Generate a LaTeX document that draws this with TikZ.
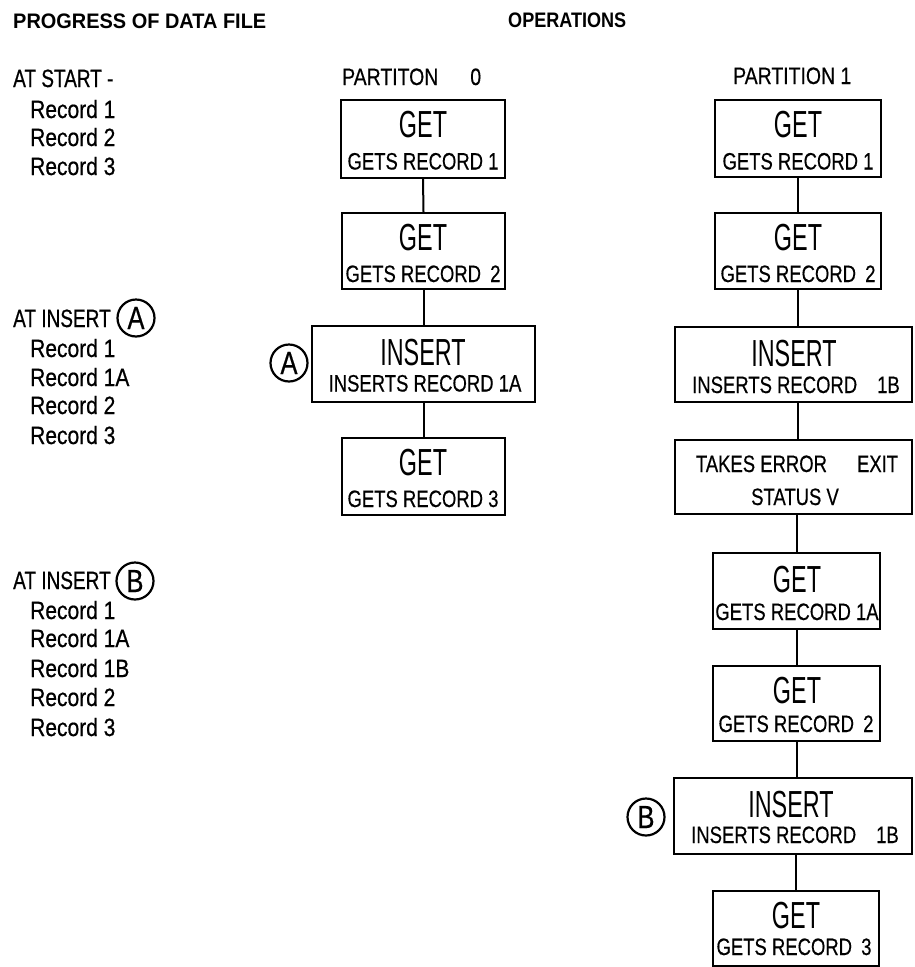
\documentclass[tikz,border=0pt]{standalone}
\usepackage{fontspec}
\setmainfont{Liberation Sans}
\newfontfamily\fSub[FakeStretch=0.78,FakeBold=0.4]{Liberation Sans}
\newfontfamily\fBig[FakeStretch=0.62]{Liberation Sans}
\newfontfamily\fRec[FakeStretch=0.84,FakeBold=0.6]{Liberation Sans}
\newfontfamily\fHd[FakeStretch=0.76,FakeBold=0.6]{Liberation Sans}
\newfontfamily\fTtlA[FakeStretch=0.95]{Liberation Sans}
\newfontfamily\fTtlB[FakeStretch=0.86]{Liberation Sans}
\newfontfamily\fPart[FakeStretch=0.82,FakeBold=0.4]{Liberation Sans}
\newfontfamily\fCirc[FakeStretch=0.8,FakeBold=0.4]{Liberation Sans}
\newcommand\mkbox[5]{\node[opbox, minimum width={(#4)-(#2)}, minimum height={(#5)-(#3)}] (#1) at ({((#2)+(#4))/2},{((#3)+(#5))/2}) {};}
\tikzset{
  opbox/.style={draw, rectangle, line width=2.4pt, inner sep=0pt},
  link/.style={line width=2pt},
  bigt/.style={font=\fBig\fontsize{37.7}{38}\selectfont, inner sep=0pt, anchor=base},
  subt/.style={font=\fSub\fontsize{23.7}{24}\selectfont, inner sep=0pt, anchor=base},
  rect/.style={font=\fRec\fontsize{25}{25}\selectfont, inner sep=0pt, anchor=base west},
  hdrt/.style={font=\fHd\fontsize{25}{25}\selectfont, inner sep=0pt, anchor=base west},
  tagc/.style={circle, draw, line width=2.2pt, minimum size=37pt, inner sep=0pt, font=\fCirc\fontsize{32}{32}\selectfont},
  ttlA/.style={font=\fTtlA\bfseries\fontsize{21}{21}\selectfont, inner sep=0pt, anchor=base west},
  ttlB/.style={font=\fTtlB\bfseries\fontsize{21}{21}\selectfont, inner sep=0pt, anchor=base west},
  partl/.style={font=\fPart\fontsize{23.7}{24}\selectfont, inner sep=0pt, anchor=base west}
}
\begin{document}
\begin{tikzpicture}[x=1pt,y=-1pt]
\useasboundingbox (0,0) rectangle (914,967);

% titles
\node[ttlA] (t1) at (13,28.5) {PROGRESS OF DATA FILE};
\node[ttlB] (t2) at (508,27.5) {OPERATIONS};
\node[partl] (p0) at (342,85) {PARTITON\hspace{32pt}0};
\node[partl] (p1) at (733,84) {PARTITION 1};

% left column
\node[hdrt] (h1) at (13,87) {AT START -};
\node[rect] (r11) at (30,118) {Record 1};
\node[rect] (r12) at (30,146) {Record 2};
\node[rect] (r13) at (30,175) {Record 3};

\node[hdrt] (h2) at (13,327) {AT INSERT};
\node[tagc] (cA1) at (136,318) {A};
\node[rect] (r21) at (30,357) {Record 1};
\node[rect] (r22) at (30,386) {Record 1A};
\node[rect] (r23) at (30,414) {Record 2};
\node[rect] (r24) at (30,444) {Record 3};

\node[hdrt] (h3) at (13,589) {AT INSERT};
\node[tagc] (cB1) at (135,581) {B};
\node[rect] (r31) at (30,619) {Record 1};
\node[rect] (r32) at (30,647) {Record 1A};
\node[rect] (r33) at (30,677) {Record 1B};
\node[rect] (r34) at (30,706) {Record 2};
\node[rect] (r35) at (30,736) {Record 3};

% partition 0
\mkbox{a1}{341}{100}{505}{178}
\mkbox{a2}{342}{213}{505}{289}
\mkbox{a3}{312}{326}{535}{402}
\mkbox{a4}{342}{438}{505}{515}
\node[bigt] (a1t) at (423,137) {GET};
\node[subt] (a1s) at (423,169.5) {GETS RECORD 1};
\node[bigt] (a2t) at (423,250) {GET};
\node[subt] (a2s) at (423,282) {GETS RECORD\hspace{4pt} 2};
\node[bigt] (a3t) at (423,365) {INSERT};
\node[subt] (a3s) at (425,391.5) {INSERTS RECORD 1A};
\node[bigt] (a4t) at (423,475) {GET};
\node[subt] (a4s) at (423,507) {GETS RECORD 3};
\node[tagc] (cA2) at (289,363) {A};
\draw[link] (a1.south) -- (a2.north);
\draw[link] (a2.south) -- (a2.south |- a3.north);
\draw[link] (a4.north |- a3.south) -- (a4.north);

% partition 1
\mkbox{b1}{715}{100}{881}{177}
\mkbox{b2}{715}{213}{881}{289}
\mkbox{b3}{675}{327}{912}{402}
\mkbox{b4}{675}{440}{912}{514}
\mkbox{b5}{713}{553}{880}{629}
\mkbox{b6}{713}{666}{880}{741}
\mkbox{b7}{674}{778}{912}{854}
\mkbox{b8}{713}{891}{879}{966}
\node[bigt] (b1t) at (798,137) {GET};
\node[subt] (b1s) at (798,169.5) {GETS RECORD 1};
\node[bigt] (b2t) at (798,250) {GET};
\node[subt] (b2s) at (798,282) {GETS RECORD\hspace{4pt} 2};
\node[bigt] (b3t) at (794,366) {INSERT};
\node[subt] (b3s) at (796,393) {INSERTS RECORD\hspace{20pt}1B};
\node[subt] (b4a) at (797,472) {TAKES ERROR\hspace{30pt}EXIT};
\node[subt] (b4b) at (795,505) {STATUS V};
\node[bigt] (b5t) at (797,592) {GET};
\node[subt] (b5s) at (797,620) {GETS RECORD 1A};
\node[bigt] (b6t) at (797,703) {GET};
\node[subt] (b6s) at (796,732) {GETS RECORD\hspace{4pt} 2};
\node[bigt] (b7t) at (791,817) {INSERT};
\node[subt] (b7s) at (795,843) {INSERTS RECORD\hspace{20pt}1B};
\node[bigt] (b8t) at (796,928) {GET};
\node[subt] (b8s) at (794,955) {GETS RECORD\hspace{4pt} 3};
\node[tagc] (cB2) at (646,817) {B};
\draw[link] (b1.south) -- (b2.north);
\draw[link] (b2.south) -- (b2.south |- b3.north);
\draw[link] (b2.south |- b3.south) -- (b2.south |- b4.north);
\draw[link] (b5.north |- b4.south) -- (b5.north);
\draw[link] (b5.south) -- (b6.north);
\draw[link] (b6.south) -- (b6.south |- b7.north);
\draw[link] (b8.north |- b7.south) -- (b8.north);
\end{tikzpicture}
\end{document}
